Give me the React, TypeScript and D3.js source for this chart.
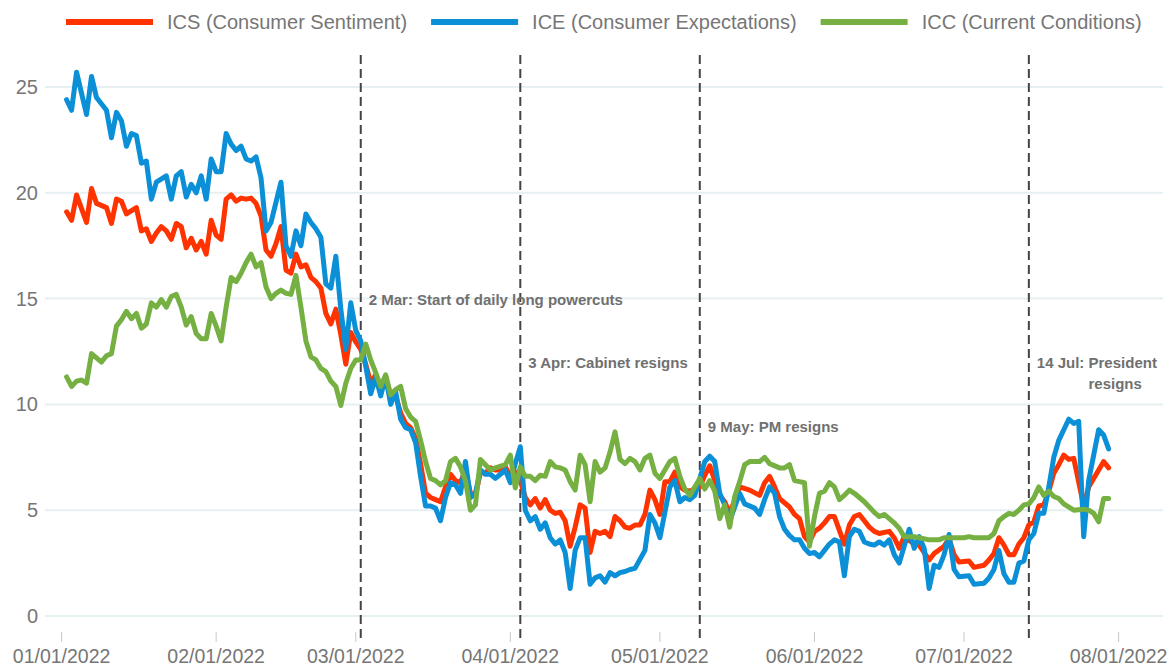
import React, { useRef, useEffect } from 'react';
import * as d3 from 'd3';

// day offsets from 1 Jan 2022, value
const icsData: [number, number][] = [
  [1, 19.1], [2, 18.7], [3, 19.9], [5, 18.6], [6, 20.2], [7, 19.5], [9, 19.3], [10, 18.55], [11, 19.7], [12, 19.6],
  [13, 19.0], [15, 19.3], [16, 18.2], [17, 18.3], [18, 17.7], [19, 18.1], [20, 18.4], [21, 18.2], [22, 17.8], [23, 18.55],
  [24, 18.4], [25, 17.4], [26, 17.85], [27, 17.3], [28, 17.7], [29, 17.1], [30, 18.7], [31, 18.0], [32, 17.8], [33, 19.7],
  [34, 19.9], [35, 19.6], [36, 19.75], [37, 19.7], [38, 19.75], [39, 19.5], [40, 18.9], [41, 17.3], [42, 17.0], [43, 17.6],
  [44, 18.4], [45, 16.35], [46, 16.2], [47, 17.1], [48, 16.5], [49, 16.6], [50, 16.0], [51, 15.8], [52, 15.5], [53, 14.3],
  [54, 13.8], [55, 14.5], [56, 13.3], [57, 11.9], [58, 13.4], [59, 12.95], [60, 12.6], [61, 11.9], [62, 11.0], [63, 11.4],
  [64, 10.7], [65, 11.3], [66, 10.3], [67, 10.4], [68, 9.6], [69, 9.1], [70, 8.9], [71, 8.4], [72, 7.2], [73, 5.8],
  [74, 5.6], [75, 5.5], [76, 5.4], [77, 6.1], [78, 6.7], [79, 6.4], [80, 6.3], [81, 6.9], [82, 5.8], [83, 5.7],
  [84, 6.8], [85, 6.75], [86, 7.0], [87, 6.9], [88, 6.9], [89, 7.05], [90, 6.6], [91, 6.8], [92, 6.4], [93, 5.6],
  [94, 5.25], [95, 5.55], [96, 5.1], [97, 5.5], [98, 5.0], [99, 4.85], [100, 4.9], [101, 4.5], [102, 3.3], [103, 4.2],
  [104, 5.25], [105, 5.1], [106, 3.0], [107, 4.0], [108, 3.9], [109, 4.0], [110, 3.75], [111, 4.7], [112, 4.5], [113, 4.2],
  [114, 4.15], [115, 4.3], [116, 4.3], [117, 4.8], [118, 5.95], [119, 5.5], [120, 4.8], [121, 6.35], [122, 6.35], [123, 6.8],
  [124, 6.1], [125, 5.95], [126, 5.9], [127, 6.0], [128, 6.1], [129, 6.65], [130, 7.1], [131, 6.4], [132, 5.7], [133, 5.4],
  [134, 4.85], [136, 6.1], [138, 5.95], [140, 5.7], [141, 6.3], [142, 6.6], [143, 6.1], [144, 5.55], [146, 5.15], [147, 4.8],
  [148, 4.6], [149, 3.75], [150, 3.5], [151, 4.0], [152, 4.15], [153, 4.4], [154, 4.7], [155, 4.7], [157, 3.4], [158, 4.3],
  [159, 4.7], [160, 4.8], [161, 4.5], [162, 4.2], [163, 4.0], [164, 3.9], [166, 4.0], [167, 3.7], [168, 3.2], [169, 3.75],
  [171, 3.4], [172, 3.35], [174, 2.65], [175, 2.95], [177, 3.3], [178, 3.65], [179, 2.9], [180, 2.55], [182, 2.6], [183, 2.3],
  [185, 2.4], [186, 2.65], [187, 2.95], [188, 3.7], [189, 3.35], [190, 2.9], [191, 2.9], [192, 3.4], [193, 3.7], [194, 4.3],
  [195, 4.45], [196, 5.2], [197, 5.25], [198, 5.9], [199, 6.75], [200, 7.15], [201, 7.6], [202, 7.4], [203, 7.45], [205, 5.2],
  [206, 6.1], [208, 6.9], [209, 7.3], [210, 7.0],
];

const iceData: [number, number][] = [
  [1, 24.4], [2, 23.9], [3, 25.7], [5, 23.7], [6, 25.5], [7, 24.5], [9, 23.9], [10, 22.6], [11, 23.8], [12, 23.4],
  [13, 22.2], [14, 22.8], [15, 22.7], [16, 21.4], [17, 21.5], [18, 19.7], [19, 20.5], [21, 20.8], [22, 19.7], [23, 20.8],
  [24, 21.0], [25, 19.8], [26, 20.4], [27, 20.0], [28, 20.8], [29, 19.7], [30, 21.6], [31, 21.0], [32, 21.0], [33, 22.8],
  [34, 22.3], [35, 22.0], [36, 22.2], [37, 21.6], [38, 21.5], [39, 21.7], [40, 20.7], [41, 18.2], [42, 18.6], [44, 20.5],
  [45, 17.5], [46, 17.0], [47, 18.2], [48, 17.5], [49, 19.0], [50, 18.6], [51, 18.3], [52, 17.9], [53, 15.7], [54, 15.5],
  [55, 17.0], [56, 14.5], [57, 12.6], [58, 14.8], [59, 13.5], [60, 13.0], [61, 11.8], [62, 10.5], [63, 11.3], [64, 10.4],
  [65, 11.3], [66, 10.0], [67, 10.6], [68, 9.3], [69, 8.9], [70, 8.8], [71, 8.2], [72, 6.6], [73, 5.2], [74, 5.2],
  [75, 5.1], [76, 4.5], [77, 5.6], [78, 6.3], [79, 6.2], [80, 5.8], [81, 7.3], [82, 5.6], [83, 5.8], [84, 6.9],
  [85, 6.7], [86, 6.7], [87, 6.5], [88, 6.7], [89, 6.9], [90, 6.3], [91, 7.2], [92, 8.0], [93, 5.0], [94, 4.5],
  [95, 4.7], [96, 4.1], [97, 4.4], [98, 3.7], [99, 3.4], [100, 3.6], [101, 3.0], [102, 1.3], [103, 3.1], [104, 3.7],
  [105, 3.7], [106, 1.5], [107, 1.8], [108, 1.9], [109, 1.6], [110, 2.05], [111, 1.9], [112, 2.05], [113, 2.1], [114, 2.2],
  [115, 2.25], [117, 3.1], [118, 4.8], [119, 4.4], [120, 3.7], [122, 6.1], [123, 6.4], [124, 5.4], [125, 5.6], [126, 5.5],
  [127, 5.7], [129, 7.3], [130, 7.55], [131, 7.3], [132, 5.8], [133, 5.25], [134, 4.5], [136, 5.8], [137, 5.3], [139, 5.1],
  [140, 4.8], [141, 5.5], [142, 6.1], [143, 5.8], [144, 4.7], [145, 4.1], [146, 3.8], [147, 3.6], [148, 3.6], [149, 3.2],
  [150, 2.95], [151, 3.0], [152, 2.8], [153, 3.1], [154, 3.4], [155, 3.6], [156, 3.5], [157, 1.9], [158, 3.75], [159, 4.1],
  [160, 4.0], [161, 3.5], [162, 3.4], [163, 3.35], [164, 3.5], [165, 3.35], [166, 3.6], [167, 2.9], [168, 2.5], [170, 4.1],
  [171, 3.2], [172, 3.75], [173, 3.2], [174, 1.3], [175, 2.4], [176, 2.3], [177, 2.9], [178, 3.85], [179, 2.2], [180, 1.85],
  [182, 1.9], [183, 1.5], [185, 1.55], [186, 1.8], [187, 2.2], [188, 3.1], [189, 2.0], [190, 1.6], [191, 1.6], [192, 2.5],
  [193, 2.6], [194, 3.6], [195, 3.9], [196, 4.85], [197, 4.85], [198, 6.1], [199, 7.5], [200, 8.3], [202, 9.3], [203, 9.1],
  [204, 9.2], [205, 3.75], [206, 6.4], [208, 8.8], [209, 8.55], [210, 7.9],
];

const iccData: [number, number][] = [
  [1, 11.3], [2, 10.85], [3, 11.1], [4, 11.15], [5, 11.0], [6, 12.4], [7, 12.2], [8, 12.0], [9, 12.3], [10, 12.4],
  [11, 13.7], [12, 14.0], [13, 14.4], [14, 14.05], [15, 14.3], [16, 13.6], [17, 13.8], [18, 14.8], [19, 14.6], [20, 14.95],
  [21, 14.6], [22, 15.1], [23, 15.2], [24, 14.6], [25, 13.75], [26, 14.15], [27, 13.35], [28, 13.1], [29, 13.1], [30, 14.3],
  [31, 13.7], [32, 13.0], [33, 14.6], [34, 16.0], [35, 15.8], [36, 16.2], [37, 16.7], [38, 17.1], [39, 16.5], [40, 16.7],
  [41, 15.55], [42, 15.0], [43, 15.25], [44, 15.4], [45, 15.25], [46, 15.2], [47, 16.1], [48, 14.6], [49, 13.0], [50, 12.25],
  [51, 12.1], [52, 11.7], [53, 11.55], [54, 11.1], [55, 10.85], [56, 9.95], [57, 11.0], [58, 11.7], [59, 12.1], [60, 12.1],
  [61, 12.85], [62, 12.1], [63, 11.5], [64, 10.85], [65, 11.4], [66, 10.45], [67, 10.7], [68, 10.85], [69, 9.8], [70, 9.4],
  [71, 9.2], [72, 8.3], [73, 7.3], [74, 6.5], [75, 6.4], [76, 6.2], [77, 6.4], [78, 7.3], [79, 7.45], [80, 7.05],
  [81, 6.4], [82, 5.0], [83, 5.25], [84, 7.4], [85, 7.15], [86, 6.9], [87, 7.0], [89, 7.15], [90, 7.6], [91, 6.05],
  [92, 7.05], [93, 6.6], [94, 6.6], [95, 6.4], [96, 6.65], [97, 6.6], [98, 7.3], [99, 7.05], [100, 7.0], [101, 6.9],
  [102, 6.35], [103, 5.95], [104, 7.6], [105, 7.15], [106, 5.4], [107, 7.3], [108, 6.8], [109, 7.0], [110, 7.75], [111, 8.7],
  [112, 7.4], [113, 7.2], [114, 7.45], [115, 7.3], [116, 6.9], [117, 7.45], [118, 7.6], [119, 6.75], [120, 6.5], [121, 6.9],
  [122, 7.3], [123, 7.45], [124, 6.6], [125, 6.0], [126, 5.7], [127, 6.1], [128, 6.5], [129, 6.0], [130, 6.4], [131, 5.9],
  [132, 4.6], [133, 5.25], [134, 4.2], [135, 5.65], [136, 6.35], [137, 7.15], [138, 7.3], [140, 7.3], [141, 7.5], [142, 7.2],
  [144, 7.0], [145, 7.0], [146, 7.15], [147, 6.4], [148, 6.35], [149, 6.3], [150, 3.3], [151, 4.7], [152, 5.8], [153, 5.9],
  [154, 6.3], [155, 6.1], [156, 5.5], [157, 5.7], [158, 5.95], [159, 5.8], [160, 5.6], [161, 5.4], [162, 5.15], [163, 4.9],
  [164, 4.7], [165, 4.8], [166, 4.6], [167, 4.4], [168, 4.15], [169, 3.75], [171, 3.75], [172, 3.7], [174, 3.6], [176, 3.6],
  [177, 3.7], [179, 3.7], [181, 3.7], [182, 3.75], [183, 3.7], [185, 3.7], [186, 3.7], [187, 3.9], [188, 4.5], [189, 4.7],
  [190, 4.85], [191, 4.8], [192, 5.0], [193, 5.25], [194, 5.3], [195, 5.6], [196, 6.1], [197, 5.7], [198, 5.9], [199, 5.65],
  [200, 5.55], [201, 5.3], [203, 5.0], [205, 5.05], [206, 5.0], [207, 4.85], [208, 4.45], [209, 5.55], [210, 5.55],
];

const seriesNames = ['ICS (Consumer Sentiment)', 'ICE (Consumer Expectations)', 'ICC (Current Conditions)'];
const seriesColors = ['#ff3300', '#0b8fd6', '#76b043'];

const yTicks = [0, 5, 10, 15, 20, 25];
const monthTicks = [0, 1, 2, 3, 4, 5, 6, 7]; // months of 2022

// event date (month, day), label lines, label level in index units
const eventDates: [number, number][] = [[2, 2], [3, 3], [4, 9], [6, 14]];
const eventLabels = [
  ['2 Mar: Start of daily long powercuts'],
  ['3 Apr: Cabinet resigns'],
  ['9 May: PM resigns'],
  ['14 Jul: President', 'resigns'],
];
const eventLevels = [14.7, 11.7, 8.7, 11.7];

function App() {
  const svgRef = useRef<SVGSVGElement>(null);

  useEffect(() => {
    const width = 1171;
    const height = 668;
    const svg = d3.select(svgRef.current);
    svg.selectAll('*').remove();
    svg.attr('width', width).attr('height', height);

    const font = 'Arial, "Liberation Sans", sans-serif';
    const dayDate = (d: number) => new Date(2022, 0, 1 + d);

    const x = d3.scaleTime()
      .domain([new Date(2022, 0, 1), new Date(2022, 7, 1)])
      .range([61.6, 1118.6]);
    const y = d3.scaleLinear().domain([0, 25]).range([616, 87]);

    // gridlines
    svg.append('g')
      .selectAll('line')
      .data(yTicks)
      .enter()
      .append('line')
      .attr('x1', 45)
      .attr('x2', 1163)
      .attr('y1', d => y(d))
      .attr('y2', d => y(d))
      .attr('stroke', '#e6eff1')
      .attr('stroke-width', 2);

    svg.append('g')
      .selectAll('text')
      .data(yTicks)
      .enter()
      .append('text')
      .attr('x', 38)
      .attr('y', d => y(d) + 7)
      .attr('text-anchor', 'end')
      .attr('font-family', font)
      .attr('font-size', 20)
      .attr('fill', '#767676')
      .text(d => d);

    // x axis ticks
    const tickFmt = d3.timeFormat('%m/%d/%Y');
    const xt = svg.append('g');
    monthTicks.forEach(m => {
      const px = x(new Date(2022, m, 1));
      xt.append('line')
        .attr('x1', px).attr('x2', px)
        .attr('y1', 632).attr('y2', 642)
        .attr('stroke', '#c8c8c8')
        .attr('stroke-width', 1);
      xt.append('text')
        .attr('x', px)
        .attr('y', 663)
        .attr('text-anchor', 'middle')
        .attr('font-family', font)
        .attr('font-size', 19.5)
        .attr('fill', '#767676')
        .text(tickFmt(new Date(2022, m, 1)));
    });

    // event lines
    const ev = svg.append('g');
    eventDates.forEach(([m, d]) => {
      const px = x(new Date(2022, m, d));
      ev.append('line')
        .attr('x1', px).attr('x2', px)
        .attr('y1', 55).attr('y2', 643)
        .attr('stroke', '#444')
        .attr('stroke-width', 2)
        .attr('stroke-dasharray', '9,5');
    });

    // series
    const line = d3.line<[number, number]>()
      .x(d => x(dayDate(d[0])))
      .y(d => y(d[1]));
    [icsData, iceData, iccData].forEach((data, i) => {
      svg.append('path')
        .datum(data)
        .attr('d', line)
        .attr('fill', 'none')
        .attr('stroke', seriesColors[i])
        .attr('stroke-width', 5)
        .attr('stroke-linejoin', 'round')
        .attr('stroke-linecap', 'round');
    });

    // event labels
    eventDates.forEach(([m, d], i) => {
      const px = x(new Date(2022, m, d));
      const lines = eventLabels[i];
      lines.forEach((t, j) => {
        const multi = lines.length > 1;
        ev.append('text')
          .attr('x', multi && j > 0 ? px + 113 : px + 8)
          .attr('y', y(eventLevels[i]) + j * 21)
          .attr('text-anchor', multi && j > 0 ? 'end' : 'start')
          .attr('font-family', font)
          .attr('font-size', 15)
          .attr('font-weight', 'bold')
          .attr('fill', '#707070')
          .text(t);
      });
    });

    // legend
    const lg = svg.append('g');
    let lx = 66;
    seriesNames.forEach((name, i) => {
      lg.append('line')
        .attr('x1', lx).attr('x2', lx + 87)
        .attr('y1', 22).attr('y2', 22)
        .attr('stroke', seriesColors[i])
        .attr('stroke-width', 6);
      const t = lg.append('text')
        .attr('x', lx + 101)
        .attr('y', 29)
        .attr('font-family', font)
        .attr('font-size', 20)
        .attr('fill', '#767676')
        .text(name);
      const w = (t.node() as SVGTextElement).getComputedTextLength();
      lx = lx + 101 + w + 24;
    });
  }, []);

  return <svg ref={svgRef} style={{ display: 'block', position: 'absolute', left: 0, top: 0 }} />;
}

export default App;
